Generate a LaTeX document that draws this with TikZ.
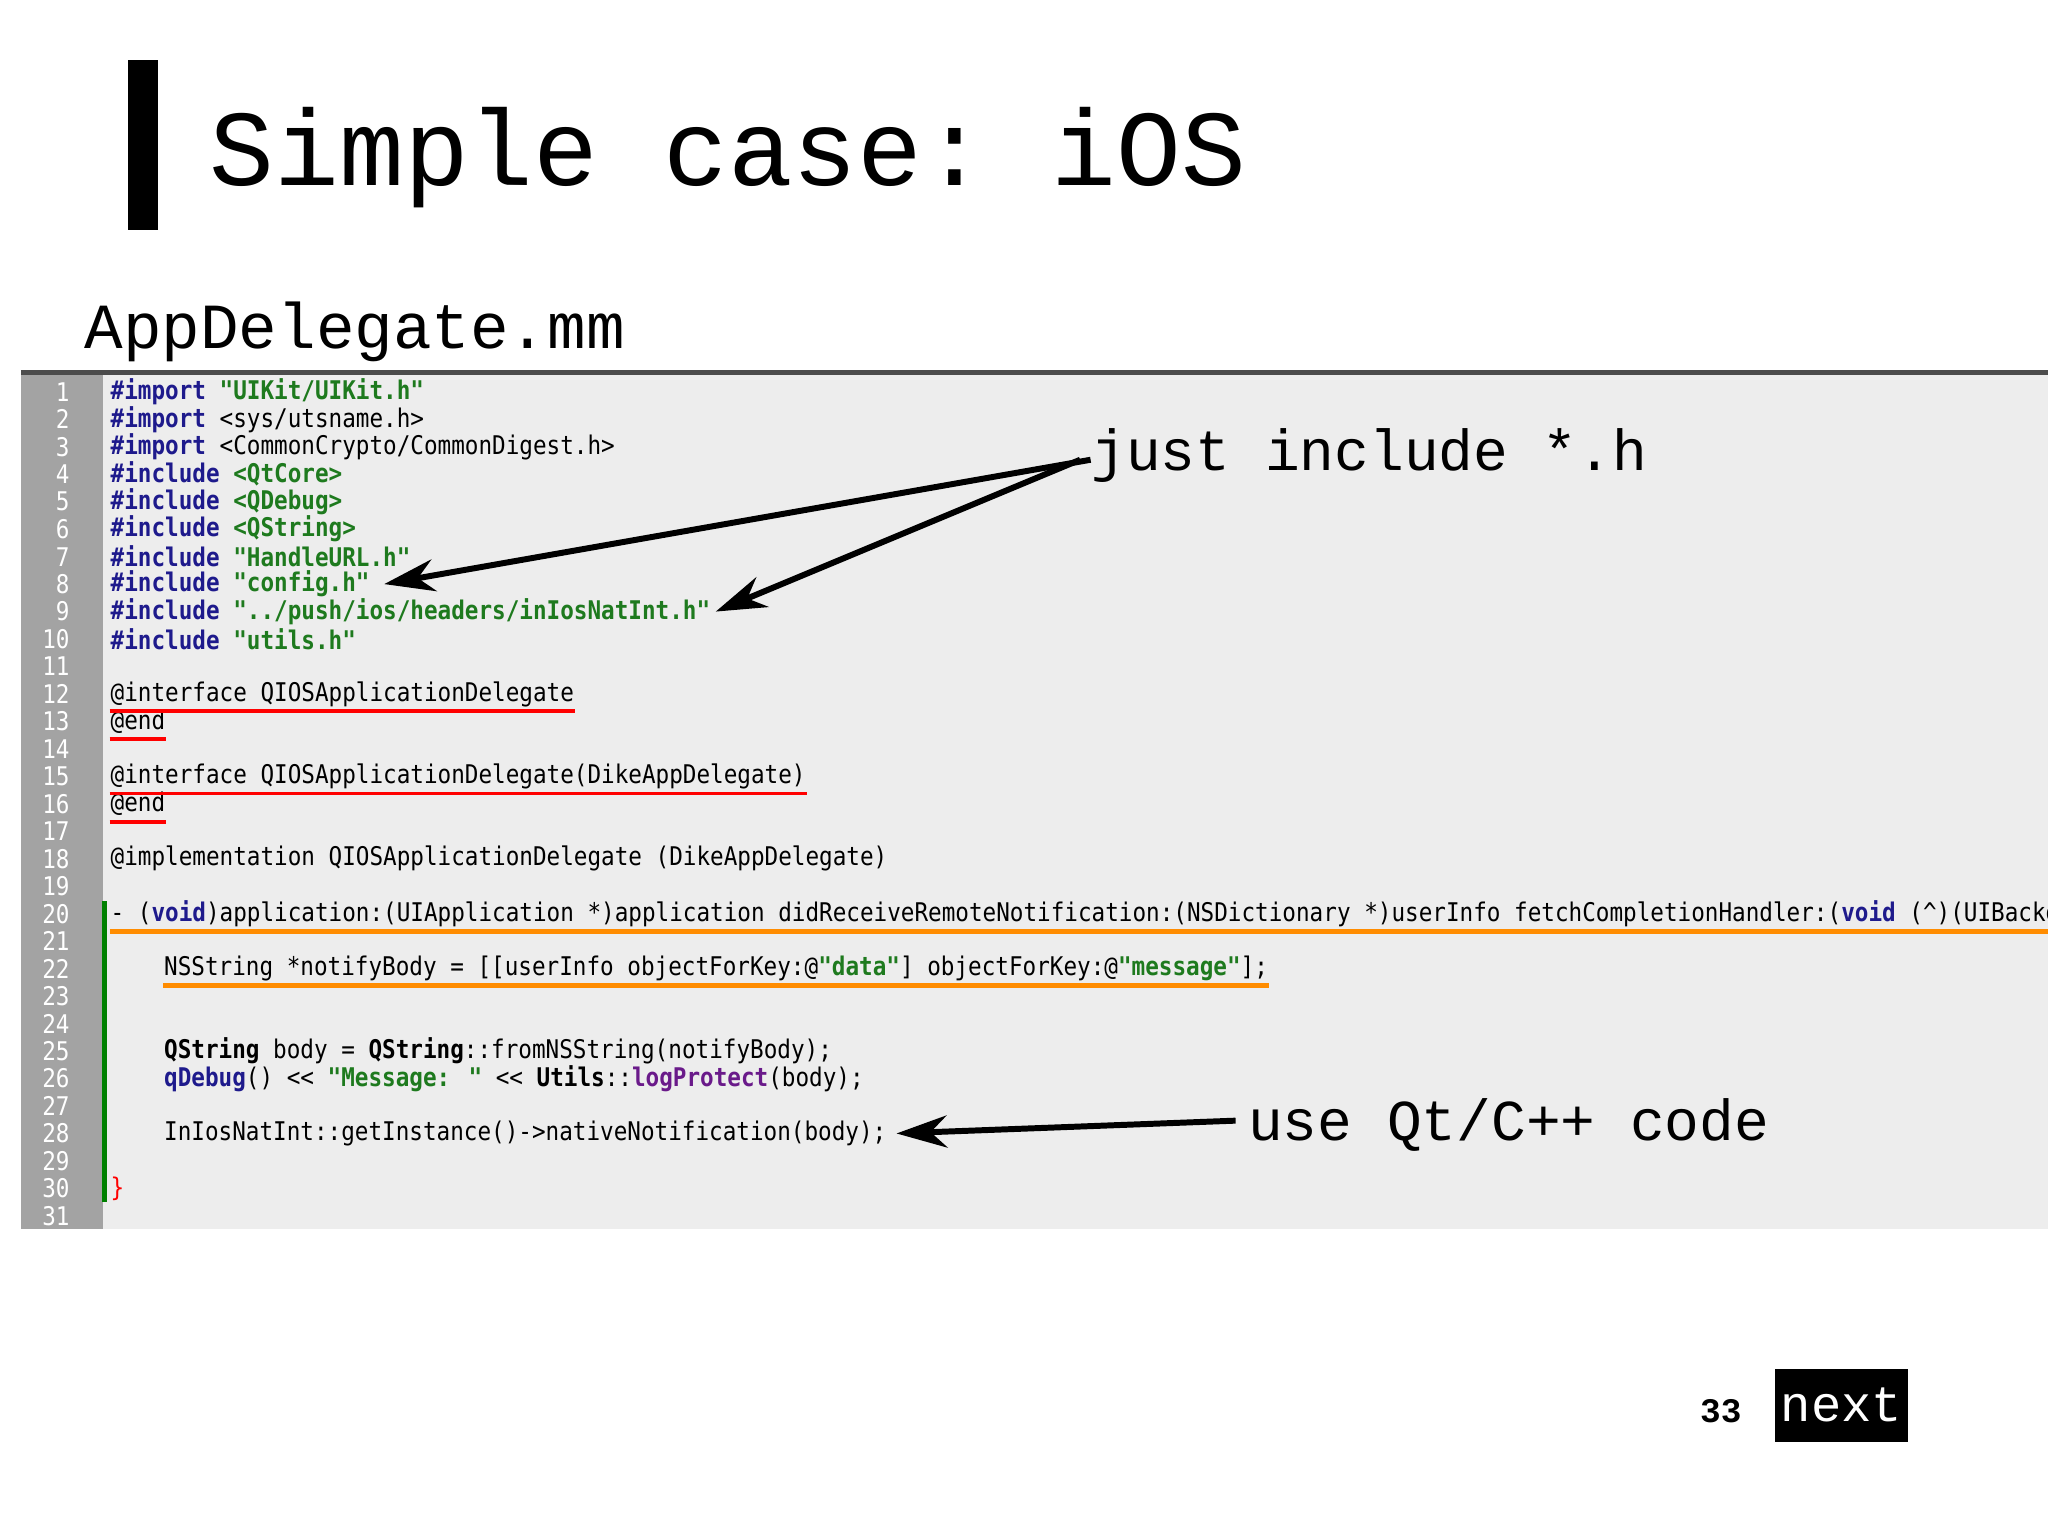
\documentclass[tikz,border=0pt]{standalone}
\usepackage{fontspec}
\setmonofont{Liberation Mono}
\newfontfamily\codefont[FakeStretch=0.88]{DejaVu Sans Mono}
\usetikzlibrary{arrows.meta}
\definecolor{kw}{HTML}{1E1A8C}
\definecolor{st}{HTML}{1E7A1E}
\definecolor{pu}{HTML}{6A1A8A}
\definecolor{pane}{HTML}{EDEDED}
\definecolor{gut}{HTML}{A3A3A3}
\newcommand{\K}[1]{\textcolor{kw}{\bfseries #1}}
\newcommand{\Sg}[1]{\textcolor{st}{\bfseries #1}}
\begin{document}
\begin{tikzpicture}[x=0.01cm,y=-0.01cm,
  code/.style={anchor=west,inner sep=0pt,font=\codefont\fontsize{5.6pt}{6pt}\selectfont},
  lnum/.style={anchor=east,inner sep=0pt,text=white,font=\codefont\fontsize{5.6pt}{6pt}\selectfont},
  big/.style={inner sep=0pt,anchor=base west,font=\ttfamily\fontsize{12.6pt}{14pt}\selectfont},
  arr/.style={-{Stealth[length=11pt,width=7pt]},line width=1.3pt},
  uline/.style={line width=0.8pt}]
\useasboundingbox (0,0) rectangle (1568,1176);
\fill[white] (0,0) rectangle (1568,1176);
\fill (98,46) rectangle (121,176);
\node[inner sep=0pt,anchor=base west,font=\ttfamily\fontsize{23.5pt}{26pt}\selectfont] (title) at (160,142) {Simple case: iOS};
\node[inner sep=0pt,anchor=base west,font=\ttfamily\fontsize{14pt}{16pt}\selectfont] (file) at (64,267) {AppDelegate.mm};
% pane
\fill[pane] (16,285) rectangle (1568,941);
\fill[gut] (16,285) rectangle (79,941);
\draw[line width=1pt,black!70] (16,285) -- (1568,285);
\draw[line width=1.2pt,green!50!black] (80,690) -- (80,920);
\foreach \n in {1,...,31}{\node[lnum] (n\n) at (54,{300+21.03*(\n-1)}) {\n};}
\newcommand{\cl}[3]{\node[code] (#1) at (84,{300+21.03*(#2-1)}) {#3};}
\cl{l1}{1}{\K{\#import} \Sg{"UIKit/UIKit.h"}}
\cl{l2}{2}{\K{\#import} <sys/utsname.h>}
\cl{l3}{3}{\K{\#import} <CommonCrypto/CommonDigest.h>}
\cl{l4}{4}{\K{\#include} \Sg{<QtCore>}}
\cl{l5}{5}{\K{\#include} \Sg{<QDebug>}}
\cl{l6}{6}{\K{\#include} \Sg{<QString>}}
\cl{l7}{7}{\K{\#include} \Sg{"HandleURL.h"}}
\cl{l8}{8}{\K{\#include} \Sg{"config.h"}}
\cl{l9}{9}{\K{\#include} \Sg{"../push/ios/headers/inIosNatInt.h"}}
\cl{l10}{10}{\K{\#include} \Sg{"utils.h"}}
\cl{l12}{12}{@interface QIOSApplicationDelegate}
\cl{l13}{13}{@end}
\cl{l15}{15}{@interface QIOSApplicationDelegate(DikeAppDelegate)}
\cl{l16}{16}{@end}
\cl{l18}{18}{@implementation QIOSApplicationDelegate (DikeAppDelegate)}
\cl{l20}{20}{- (\K{void})application:(UIApplication *)application didReceiveRemoteNotification:(NSDictionary *)userInfo fetchCompletionHandler:(\K{void} (\^{})(UIBackg}
\node[code] (l22) at (125,{300+21.03*21}) {NSString *notifyBody = [[userInfo objectForKey:@\Sg{"data"}] objectForKey:@\Sg{"message"}];};
\node[code] (l25) at (125,{300+21.03*24}) {\textbf{QString} body = \textbf{QString}::fromNSString(notifyBody);};
\node[code] (l26) at (125,{300+21.03*25}) {\K{qDebug}() << \Sg{"Message: "} << \textbf{Utils}::\textcolor{pu}{\bfseries logProtect}(body);};
\node[code] (l28) at (125,{300+21.03*27}) {InIosNatInt::getInstance()->nativeNotification(body);};
\node[code,text=red] (l30) at (84,{300+21.03*29}) {\}};
% underlines
\foreach \a in {l12,l13,l15,l16}{\draw[red,uline] ([yshift=-2.2pt]\a.base west) -- ([yshift=-2.2pt]\a.base east);}
\draw[orange!90!yellow,uline,line width=1pt] ([yshift=-2.2pt]l20.base west) -- ([yshift=-2.2pt]l20.base east);
\draw[orange!90!yellow,uline,line width=1pt] ([yshift=-2.2pt]l22.base west) -- ([yshift=-2.2pt]l22.base east);
% labels
\node[big] (inc) at (835,360) {just include *.h};
\node[big] (use) at (955,873) {use Qt/C++ code};
\coordinate (a1) at (835,352);
\coordinate (a2) at (827,352);
\coordinate (a3) at (946,858);
\draw[arr] (a1) -- ([xshift=3pt]l8.east);
\draw[arr] (a2) -- ([xshift=1pt]l9.east);
\draw[arr] (a3) -- ([xshift=2pt]l28.east);
% footer
\node[inner sep=0pt,anchor=base east,font=\ttfamily\bfseries\fontsize{7.5pt}{9pt}\selectfont] (pg) at (1334,1089) {33};
\node[fill=black,text=white,minimum width=1.02cm,minimum height=0.56cm,inner sep=0pt,font=\ttfamily\fontsize{11pt}{12pt}\selectfont] (next) at (1410,1076) {next};
\end{tikzpicture}
\end{document}
